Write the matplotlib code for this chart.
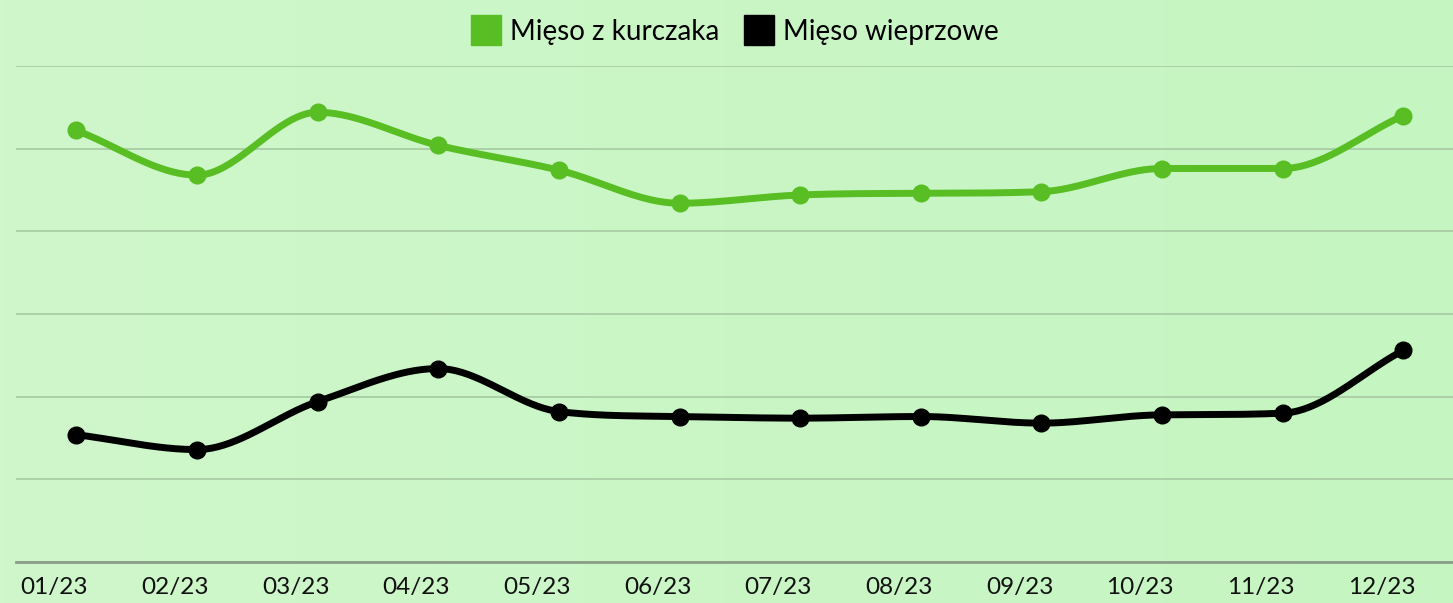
import numpy as np
import matplotlib.pyplot as plt
from matplotlib.lines import Line2D
from matplotlib.transforms import ScaledTranslation

# dane
miesiace = ['01/23', '02/23', '03/23', '04/23', '05/23', '06/23',
            '07/23', '08/23', '09/23', '10/23', '11/23', '12/23']
kurczak = [26.1, 23.4, 27.2, 25.2, 23.7, 21.7, 22.2, 22.3, 22.4, 23.8, 23.8, 27.0]
wieprzowina = [7.7, 6.8, 9.7, 11.7, 9.1, 8.8, 8.7, 8.8, 8.4, 8.9, 9.0, 12.8]

ZIELONY = '#58be23'
CZARNY = '#000000'

plt.rcParams['font.family'] = ['Lato', 'DejaVu Sans']


def monotone(x, y, n=40):
    # interpolacja monotoniczna (Fritsch-Carlson)
    x = np.asarray(x, float)
    y = np.asarray(y, float)
    h = np.diff(x)
    d = np.diff(y) / h
    m = np.zeros_like(y)
    m[0], m[-1] = d[0], d[-1]
    for i in range(1, len(y) - 1):
        if d[i - 1] * d[i] <= 0:
            m[i] = 0
        else:
            m[i] = (d[i - 1] + d[i]) / 2
    for i in range(len(d)):
        if d[i] == 0:
            m[i] = m[i + 1] = 0
        else:
            a, b = m[i] / d[i], m[i + 1] / d[i]
            s = a * a + b * b
            if s > 9:
                t = 3 / np.sqrt(s)
                m[i] = t * a * d[i]
                m[i + 1] = t * b * d[i]
    xs, ys = [], []
    for i in range(len(d)):
        t = np.linspace(0, 1, n, endpoint=False)
        h00 = 2 * t**3 - 3 * t**2 + 1
        h10 = t**3 - 2 * t**2 + t
        h01 = -2 * t**3 + 3 * t**2
        h11 = t**3 - t**2
        xs.append(x[i] + t * h[i])
        ys.append(h00 * y[i] + h10 * h[i] * m[i] + h01 * y[i + 1] + h11 * h[i] * m[i + 1])
    xs.append([x[-1]])
    ys.append([y[-1]])
    return np.concatenate(xs), np.concatenate(ys)


fig = plt.figure(figsize=(14.53, 6.03), dpi=100)

# tlo z lekkim gradientem
bg = fig.add_axes([0, 0, 1, 1], zorder=-5)
grad = np.linspace(0, 1, 256).reshape(1, -1)
c1 = np.array([0xcf, 0xf7, 0xcb]) / 255
c2 = np.array([0xc5, 0xf5, 0xc1]) / 255
img = (c1[None, None, :] * (1 - grad[..., None]) + c2[None, None, :] * grad[..., None])
bg.imshow(img, aspect='auto', extent=[0, 1, 0, 1])
bg.axis('off')

ax = fig.add_axes([16 / 1453, 41 / 603, 1 - 16 / 1453, (562 - 66) / 603])
ax.set_facecolor('none')

x = np.arange(len(miesiace))
for vals, col in [(kurczak, ZIELONY), (wieprzowina, CZARNY)]:
    xs, ys = monotone(x, vals)
    ax.plot(xs, ys, color=col, lw=5, solid_capstyle='round', zorder=3)
    ax.plot(x, vals, 'o', color=col, markersize=12, zorder=4)

ax.set_xlim(-0.5, (1453 - 16) / 120.64 - 0.5)
ax.set_ylim(0, 30)
ax.set_yticks(np.arange(0, 31, 5))
ax.yaxis.grid(True, color='#a6c9a2', lw=1.2, zorder=0)
ax.set_yticklabels([])
ax.tick_params(axis='y', length=0)

for s in ['top', 'right', 'left']:
    ax.spines[s].set_visible(False)
ax.spines['bottom'].set_color('#8a9e88')
ax.spines['bottom'].set_linewidth(2)

ax.set_xticks(x)
ax.set_xticklabels(miesiace, fontsize=17.5, color='#111111')
ax.tick_params(axis='x', length=0, pad=11)
off = ScaledTranslation(-22 / 100, 0, fig.dpi_scale_trans)
for lab in ax.get_xticklabels():
    lab.set_transform(lab.get_transform() + off)

uchwyty = [Line2D([], [], marker='s', ls='none', markersize=21.5, color=ZIELONY),
           Line2D([], [], marker='s', ls='none', markersize=21.5, color=CZARNY)]
fig.legend(uchwyty, ['Mięso z kurczaka', 'Mięso wieprzowe'], loc='center',
           bbox_to_anchor=(734.5 / 1453, 1 - 32 / 603), ncol=2, frameon=False,
           fontsize=20, handletextpad=0.3, columnspacing=0.9, handlelength=1.1)

fig.savefig('out.png', dpi=100)
